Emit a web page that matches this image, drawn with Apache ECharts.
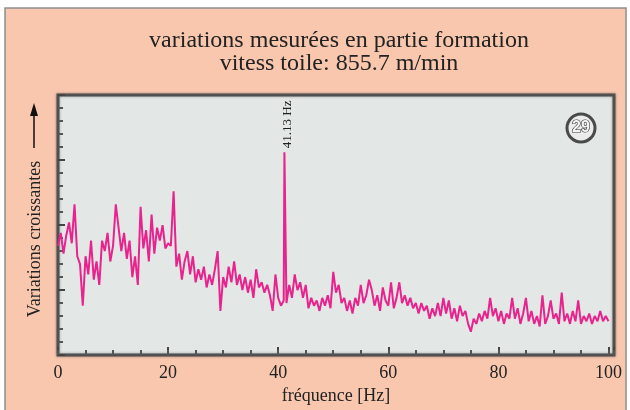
<!DOCTYPE html>
<html>
<head>
<meta charset="utf-8">
<script src="https://cdn.jsdelivr.net/npm/echarts@6/dist/echarts.min.js"></script>
<style>
  html, body { margin: 0; padding: 0; background: #fff; }
  #chart { width: 630px; height: 410px; }
</style>
</head>
<body>
<div id="chart"></div>
<script>
// spectrum, one value every 0.5 Hz from 0 to 100 Hz
const freqStep = 0.5
const amplitude = [
  42, 47, 39, 46, 51, 43, 58, 38, 35, 19,
  38, 31, 44, 29, 36, 27, 44, 40, 47, 36,
  42, 58, 49, 40, 47, 37, 44, 30, 38, 27,
  57, 41, 48, 36, 54, 39, 49, 44, 50, 41,
  43, 42, 63, 34, 39, 29, 36, 40, 31, 38,
  28, 33, 29, 34, 26, 31, 27, 33, 40, 17,
  30, 26, 34, 28, 36, 27, 31, 25, 30, 24,
  29, 22, 33, 26, 28, 24, 27, 23, 17, 31,
  22, 19, 21, 20, 27, 22, 31, 25, 28, 22,
  27, 18, 22, 19, 21, 17, 22, 19, 23, 18,
  32, 24, 27, 20, 22, 17, 21, 16, 22, 19,
  27, 20, 23, 29, 25, 19, 23, 17, 26, 21,
  19, 28, 18, 22, 28, 20, 23, 19, 22, 18,
  20, 16, 20, 17, 19, 14, 18, 15, 20, 15,
  22, 16, 21, 14, 18, 13, 19, 15, 17, 12,
  9, 14, 12, 16, 13, 17, 14, 22, 15, 18,
  13, 17, 12, 16, 14, 22, 14, 18, 12, 16,
  22, 13, 17, 12, 15, 11, 23, 12, 15, 21,
  14, 16, 12, 24, 13, 16, 12, 17, 13, 21,
  12, 15, 13, 16, 12, 15, 13, 17, 13, 15,
  13
]
// the sharp line
const peakFreq = 41.13
const peakValue = 78
const peakLabel = '41.13 Hz'
const xTickLabels = [0, 20, 40, 60, 80, 100]

const points = amplitude.map((v, i) => [i * freqStep, v])
points.push([peakFreq, peakValue])
points.sort((a, b) => a[0] - b[0])

const serif = 'Liberation Serif'
const myChart = echarts.init(document.getElementById('chart'))
const option = {
  backgroundColor: '#ffffff',
  animation: false,
  title: {
    text: 'variations mesurées en partie formation\nvitess toile: 855.7 m/min',
    left: 334,
    top: 24,
    textAlign: 'center',
    textStyle: {
      fontFamily: serif,
      fontSize: 24,
      fontWeight: 'normal',
      color: '#222',
      lineHeight: 23
    }
  },
  graphic: [
    {
      type: 'rect',
      z: -10,
      shape: { x: 5, y: 8, width: 621, height: 410 },
      style: { fill: '#f8c7ae', stroke: '#8f8f8f', lineWidth: 1.5 }
    },
    // arrow beside the y axis name
    {
      type: 'line',
      shape: { x1: 34, y1: 148, x2: 34, y2: 112 },
      style: { stroke: '#111', lineWidth: 1.5 }
    },
    {
      type: 'polygon',
      shape: { points: [[34, 103], [30, 116], [38, 116]] },
      style: { fill: '#111' }
    },
    // badge "29"
    {
      type: 'circle',
      z: 10,
      shape: { cx: 581, cy: 128, r: 14 },
      style: { fill: '#ececec', stroke: '#4a4a4a', lineWidth: 3 }
    },
    {
      type: 'text',
      z: 11,
      x: 581,
      y: 128,
      style: {
        text: '29',
        fontFamily: 'Liberation Sans',
        fontWeight: 'bold',
        fontSize: 16,
        fill: '#f4f4f4',
        stroke: '#3a3a3a',
        lineWidth: 1.2,
        align: 'center',
        verticalAlign: 'middle'
      }
    }
  ],
  grid: {
    show: true,
    left: 58,
    right: 16,
    top: 95,
    bottom: 52,
    backgroundColor: '#e3e8e6',
    borderColor: '#505050',
    borderWidth: 3,
    shadowColor: 'rgba(0,0,0,0.35)',
    shadowBlur: 3
  },
  xAxis: [
    {
      type: 'value',
      min: 0,
      max: 101,
      interval: 20,
      name: 'fréquence [Hz]',
      nameLocation: 'middle',
      nameGap: 29,
      nameTextStyle: { fontFamily: serif, fontSize: 18, color: '#222' },
      axisLine: { show: false },
      axisTick: { inside: true, length: 8, lineStyle: { color: '#444', width: 2 } },
      splitLine: { show: false },
      axisLabel: {
        margin: 9,
        fontFamily: serif,
        fontSize: 18,
        color: '#222',
        formatter: v => (xTickLabels.indexOf(v) >= 0 ? String(v) : '')
      }
    },
    {
      // small ticks every 5 Hz
      type: 'value',
      position: 'bottom',
      min: 0,
      max: 101,
      interval: 5,
      axisLine: { show: false },
      axisTick: { inside: true, length: 5, lineStyle: { color: '#555', width: 2 } },
      axisLabel: { show: false },
      splitLine: { show: false }
    }
  ],
  yAxis: {
    type: 'value',
    min: 0,
    max: 100,
    interval: 25,
    name: 'Variations croissantes',
    nameLocation: 'middle',
    nameGap: 14,
    nameTextStyle: {
      fontFamily: serif,
      fontSize: 18,
      color: '#222',
      padding: [0, 28, 0, 0]
    },
    axisLine: { show: false },
    axisTick: { inside: true, length: 7, lineStyle: { color: '#444', width: 2 } },
    minorTick: { show: true, splitNumber: 5, length: 5, lineStyle: { color: '#555', width: 2 } },
    axisLabel: { show: false },
    splitLine: { show: false }
  },
  series: [
    {
      type: 'line',
      xAxisIndex: 0,
      showSymbol: false,
      data: points,
      lineStyle: { color: '#e8238e', width: 2 },
      markPoint: {
        symbol: 'circle',
        symbolSize: 0,
        data: [{ coord: [peakFreq, peakValue] }],
        label: {
          show: true,
          formatter: peakLabel,
          rotate: 90,
          position: [3, -4],
          align: 'left',
          verticalAlign: 'middle',
          fontFamily: serif,
          fontSize: 13,
          color: '#222'
        }
      }
    }
  ]
}
myChart.setOption(option)
</script>
</body>
</html>
